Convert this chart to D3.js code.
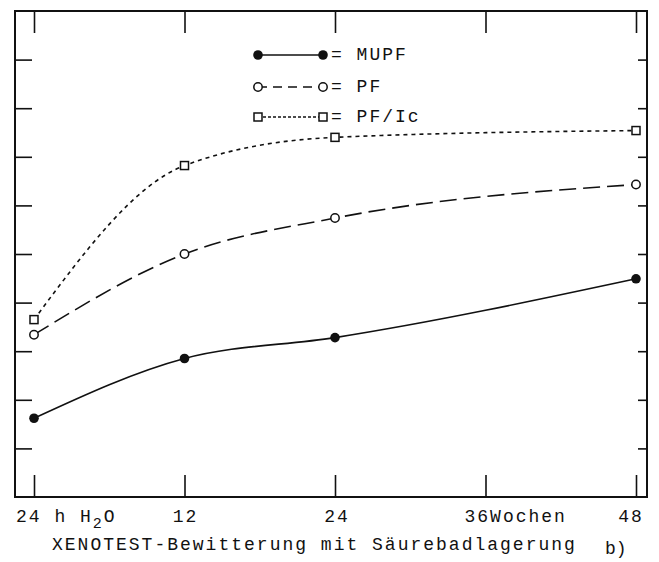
<!DOCTYPE html>
<html><head><meta charset="utf-8">
<script src="https://cdn.jsdelivr.net/npm/d3@7"></script>
<style>
html,body{margin:0;padding:0;background:#fff;}
svg{display:block;}
text{font-family:"Liberation Mono","DejaVu Sans Mono",monospace;fill:#111;}
</style></head>
<body>
<script>
// ---- data ----
const weeks = [0, 12, 24, 36, 48];            // 0 = "24 h H2O"
const pointWeeks = [0, 12, 24, 48];
const mupf = [1.62, 2.85, 3.28, 4.49];
const pf = [3.34, 5.0, 5.74, 6.43];
const pfIc = [3.65, 6.82, 7.4, 7.54];
const seriesNames = ["MUPF", "PF", "PF/Ic"];
const xTickLabels = ["24 h H", "12", "24", "36Wochen", "48"];
const yTicks = [1, 2, 3, 4, 5, 6, 7, 8, 9];
const xTitle = "XENOTEST-Bewitterung mit Säurebadlagerung";
const panelLabel = "b)";

const W = 659, H = 562;
const L = 15, R = 647, T = 11, B = 497;
const svg = d3.select("body").append("svg").attr("width", W).attr("height", H);

const x = d3.scaleLinear().domain([0, 48]).range([34, 636]);
const y = d3.scaleLinear().domain([0, 10]).range([B, T]);
const ink = "#111";

// frame
svg.append("rect").attr("x", L).attr("y", T).attr("width", R - L).attr("height", B - T)
  .attr("fill", "none").attr("stroke", ink).attr("stroke-width", 2);

// y ticks left (inward)
const gl = svg.append("g").attr("transform", `translate(${L},0)`)
  .call(d3.axisRight(y).tickValues(yTicks).tickSize(17).tickFormat(""));
// y ticks right (inward)
const gr = svg.append("g").attr("transform", `translate(${R},0)`)
  .call(d3.axisLeft(y).tickValues(yTicks).tickSize(9).tickFormat(""));
// x ticks top (inward)
const gt = svg.append("g").attr("transform", `translate(0,${T})`)
  .call(d3.axisBottom(x).tickValues(weeks).tickSize(22).tickFormat(""));
// x ticks bottom (inward)
const gb = svg.append("g").attr("transform", `translate(0,${B})`)
  .call(d3.axisTop(x).tickValues(weeks).tickSize(22).tickFormat(""));
[gl, gr, gt, gb].forEach(g => {
  g.select(".domain").remove();
  g.selectAll("line").attr("stroke", ink).attr("stroke-width", 1.6);
});

// x tick labels
const fs = 18, ls = 2.0;
const lab = svg.append("g").attr("font-size", fs).attr("letter-spacing", ls);
// "24 h H2O"
const t0 = lab.append("text").attr("x", x(0) - 18).attr("y", 522);
t0.append("tspan").text(xTickLabels[0]);
t0.append("tspan").attr("dy", 6).attr("font-size", 15).text("2");
t0.append("tspan").attr("dy", -6).text("O");
lab.append("text").attr("x", x(12) + 1).attr("y", 522).attr("text-anchor", "middle").text(xTickLabels[1]);
lab.append("text").attr("x", x(24) + 2).attr("y", 522).attr("text-anchor", "middle").text(xTickLabels[2]);
lab.append("text").attr("x", x(36) - 21).attr("y", 522).text(xTickLabels[3]);
lab.append("text").attr("x", x(48) - 5).attr("y", 522).attr("text-anchor", "middle").text(xTickLabels[4]);

// title
svg.append("text").attr("x", 52).attr("y", 550).attr("font-size", fs).attr("letter-spacing", ls).text(xTitle);
svg.append("text").attr("x", 605).attr("y", 554).attr("font-size", 18).text(panelLabel);

// series
const allSeries = [
  {name: seriesNames[0], vals: mupf, dash: null, marker: "fill"},
  {name: seriesNames[1], vals: pf, dash: "17,7", marker: "circle"},
  {name: seriesNames[2], vals: pfIc, dash: "4,4", marker: "square"}
];
const line = d3.line().x(d => x(d[0])).y(d => y(d[1])).curve(d3.curveMonotoneX);

function drawMarker(g, cx, cy, type) {
  if (type === "fill") {
    g.append("circle").attr("cx", cx).attr("cy", cy).attr("r", 4.8).attr("fill", ink);
  } else if (type === "circle") {
    g.append("circle").attr("cx", cx).attr("cy", cy).attr("r", 4.2)
      .attr("fill", "#fff").attr("stroke", ink).attr("stroke-width", 1.5);
  } else {
    g.append("rect").attr("x", cx - 4).attr("y", cy - 4).attr("width", 8).attr("height", 8)
      .attr("fill", "#fff").attr("stroke", ink).attr("stroke-width", 1.5);
  }
}

allSeries.forEach(s => {
  const pts = pointWeeks.map((w, i) => [w, s.vals[i]]);
  svg.append("path").attr("d", line(pts)).attr("fill", "none").attr("stroke", ink)
    .attr("stroke-width", 1.6).attr("stroke-dasharray", s.dash);
  const g = svg.append("g");
  pts.forEach(p => drawMarker(g, x(p[0]), y(p[1]), s.marker));
});

// legend
const legY = [55, 87, 117];
allSeries.forEach((s, i) => {
  const g = svg.append("g");
  g.append("line").attr("x1", 258).attr("x2", 323).attr("y1", legY[i]).attr("y2", legY[i])
    .attr("stroke", ink).attr("stroke-width", 1.6).attr("stroke-dasharray", s.dash ? (i === 1 ? "9,6" : "3,2") : null);
  drawMarker(g, 258, legY[i], s.marker);
  drawMarker(g, 323, legY[i], s.marker);
  g.append("text").attr("x", 331).attr("y", legY[i] + 5).attr("font-size", fs).attr("letter-spacing", ls)
    .text("= " + s.name);
});
</script>
</body></html>
